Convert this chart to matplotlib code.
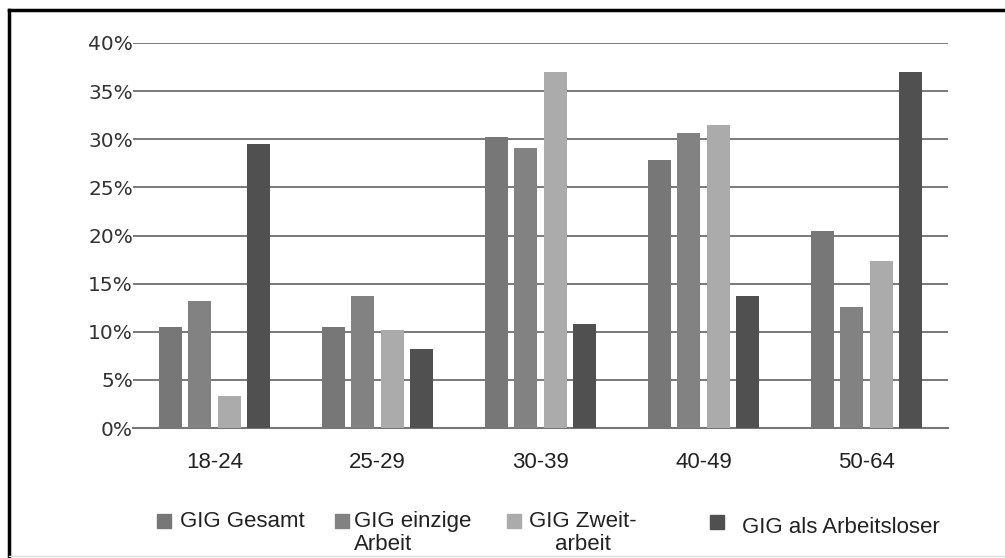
import numpy as np
import matplotlib.pyplot as plt
from matplotlib.patches import Rectangle
from matplotlib.lines import Line2D

groups = ['18-24', '25-29', '30-39', '40-49', '50-64']
series = ['GIG Gesamt', 'GIG einzige\nArbeit', 'GIG Zweit-\narbeit', 'GIG als Arbeitsloser']
gesamt = [10.5, 10.5, 30.2, 27.8, 20.5]
einzige = [13.2, 13.7, 29.1, 30.7, 12.6]
zweit = [3.3, 10.2, 37.0, 31.5, 17.3]
arbeitslos = [29.5, 8.2, 10.8, 13.7, 37.0]
yticks = [0, 5, 10, 15, 20, 25, 30, 35, 40]

colors = ['#777777', '#828282', '#ababab', '#505050']
values = [gesamt, einzige, zweit, arbeitslos]

W, H = 1005, 558
fig = plt.figure(figsize=(W / 100, H / 100), dpi=100)
ax = fig.add_axes([133 / W, 1 - 428 / H, (948 - 133) / W, (428 - 43) / H])

x = np.arange(len(groups))
step = 0.181
width = 0.141
for i, (vals, c) in enumerate(zip(values, colors)):
    ax.bar(x + (i - 1.5) * step, vals, width, color=c, zorder=3)

ax.set_xlim(-0.5, len(groups) - 0.5)
ax.set_ylim(0, 40)
ax.set_yticks(yticks)
ax.set_yticklabels([f'{t}%' for t in yticks], fontsize=14.5, color='#333333',
                   family='DejaVu Sans')
ax.set_xticks(x)
ax.set_xticklabels(groups, fontsize=16, family='Liberation Sans', color='#222222')
ax.tick_params(axis='y', length=0, pad=0)
ax.tick_params(axis='x', length=0, pad=17)
ax.grid(axis='y', color='#555555', linewidth=1.1, zorder=0)
for s in ['left', 'right', 'top']:
    ax.spines[s].set_visible(False)
ax.spines['bottom'].set_color('#777777')
ax.spines['bottom'].set_linewidth(1.5)

# legend drawn by hand (irregular spacing in original)
# square x, square y(top), text x, text top y, text alignment
leg = [(157, 514, 180, 511, 'left'), (335, 514, 354, 511, 'left'),
       (507, 514, 529, 511, 'left'), (710, 515, 742, 517, 'left')]
for (sx, sy, tx, ty, ha), lab, c in zip(leg, series, colors):
    fig.add_artist(Rectangle((sx / W, 1 - (sy + 14) / H), 14 / W, 14 / H,
                             transform=fig.transFigure, color=c))
    ma = 'center' if lab.startswith('GIG Zweit') else 'left'
    fig.text(tx / W, 1 - ty / H, lab, ha=ha, va='top', fontsize=16,
             family='Liberation Sans', color='#222222', linespacing=1.1,
             multialignment=ma)

# frame (left/top black, bottom light)
fig.add_artist(Line2D([9 / W, 9 / W], [1 - 10 / H, 1 - 556 / H], transform=fig.transFigure,
                      color='black', linewidth=2.5))
fig.add_artist(Line2D([9 / W, 1], [1 - 10 / H, 1 - 10 / H], transform=fig.transFigure,
                      color='black', linewidth=2.5))
fig.add_artist(Line2D([9 / W, 1], [1 - 556 / H, 1 - 556 / H], transform=fig.transFigure,
                      color='#dddddd', linewidth=1))

fig.savefig('out.png', dpi=100)
